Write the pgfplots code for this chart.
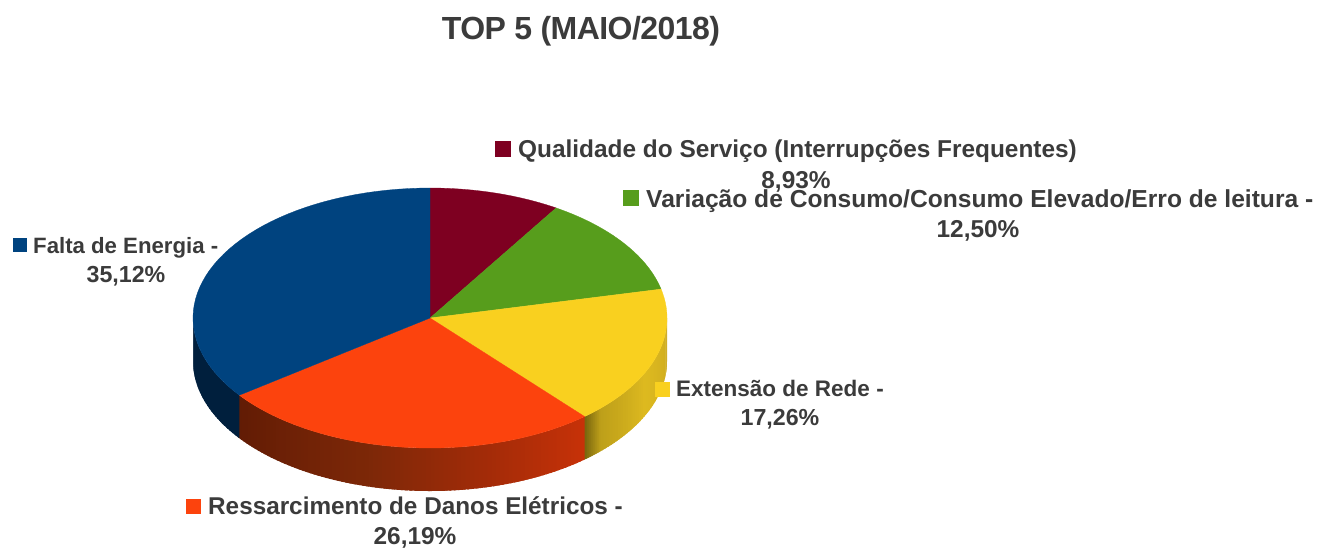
\documentclass[border=0pt]{standalone}
\usepackage{pgfplots}
\pgfplotsset{compat=1.18}
\usepackage{fontspec}
\setmainfont{Liberation Sans}
\definecolor{txt}{RGB}{59,59,59}
\definecolor{cMaroon}{RGB}{126,0,33}
\definecolor{cGreen}{RGB}{87,157,28}
\definecolor{cYellow}{RGB}{249,208,31}
\definecolor{cOrange}{RGB}{252,67,13}
\definecolor{cBlue}{RGB}{0,67,127}
% pie geometry in picture pixels
\def\cx{430}\def\cy{318}\def\rx{237}\def\ry{130}\def\dep{43}
\gdef\cum{0}
% one top sector: value in percent, colour
\newcommand\topsector[2]{%
  \pgfmathsetmacro\aS{\cum*3.6}%
  \pgfmathsetmacro\aE{(\cum+#1)*3.6}%
  \xdef\seclist{(\cx,\cy)}%
  \foreach \k in {0,...,48}{%
    \pgfmathsetmacro\aa{\aS+(\aE-\aS)*\k/48}%
    \pgfmathsetmacro\px{\cx+\rx*sin(\aa)}%
    \pgfmathsetmacro\py{\cy-\ry*cos(\aa)}%
    \xdef\seclist{\seclist (\px,\py)}%
  }%
  \pgfmathsetmacro\newcum{\cum+#1}\xdef\cum{\newcum}%
  \def\doit##1{\addplot[fill=#2,draw=#2,line width=0.3pt,forget plot] coordinates {##1} -- cycle;}%
  \expandafter\doit\expandafter{\seclist}%
}
% side wall strips between two angles, colour interpolated; each strip runs under the next
\newcommand\sidewall[9]{% a0 a1 n r0 g0 b0 r1 g1 b1
  \pgfplotsinvokeforeach{1,...,#3}{%
    \pgfmathsetmacro\aA{#1+(#2-#1)*(##1-1)/#3}%
    \pgfmathsetmacro\aB{min(270,#1+(#2-#1)*(##1+0.6)/#3)}%
    \pgfmathsetmacro\aM{0.5*(\aA+\aB)}%
    \pgfmathsetmacro\xA{\cx+\rx*sin(\aA)}\pgfmathsetmacro\yA{\cy-\ry*cos(\aA)}%
    \pgfmathsetmacro\xB{\cx+\rx*sin(\aB)}\pgfmathsetmacro\yB{\cy-\ry*cos(\aB)}%
    \pgfmathsetmacro\xM{\cx+\rx*sin(\aM)}\pgfmathsetmacro\yM{\cy-\ry*cos(\aM)}%
    \pgfmathsetmacro\yAd{\yA+\dep}\pgfmathsetmacro\yBd{\yB+\dep}\pgfmathsetmacro\yMd{\yM+\dep}%
    \pgfmathtruncatemacro\cR{#4+(#7-#4)*(##1-0.5)/#3}%
    \pgfmathtruncatemacro\cG{#5+(#8-#5)*(##1-0.5)/#3}%
    \pgfmathtruncatemacro\cB{#6+(#9-#6)*(##1-0.5)/#3}%
    \edef\doit{\noexpand\addplot[fill={rgb,255:red,\cR;green,\cG;blue,\cB},draw=none,forget plot] coordinates {(\xA,\yA) (\xM,\yM) (\xB,\yB) (\xB,\yBd) (\xM,\yMd) (\xA,\yAd)} -- cycle;}%
    \doit
  }%
}
\newcommand\fs[1]{\fontsize{#1}{#1}\selectfont\bfseries}
\begin{document}
\begin{tikzpicture}
\useasboundingbox (0,0) rectangle (1330pt,550pt);
\begin{axis}[
  at={(0,0)},anchor=south west,
  width=1330pt,height=550pt,scale only axis,
  xmin=0,xmax=1330,ymin=0,ymax=550,y dir=reverse,
  hide axis,clip=false]
% side walls
\sidewall{90}{115}{24}{205}{170}{30}{222}{186}{32}
\sidewall{115}{134}{18}{222}{186}{32}{190}{160}{26}
\sidewall{134}{139.3}{8}{190}{160}{26}{118}{100}{14}
\sidewall{139.3}{165}{24}{200}{50}{8}{165}{44}{8}
\sidewall{165}{195}{28}{165}{44}{8}{125}{40}{8}
\sidewall{195}{233.6}{36}{125}{40}{8}{98}{28}{5}
\sidewall{233.6}{270}{30}{0}{31}{61}{0}{31}{61}
% top faces, from the chart's values
\topsector{8.93}{cMaroon}
\topsector{12.50}{cGreen}
\topsector{17.26}{cYellow}
\topsector{26.19}{cOrange}
\topsector{35.12}{cBlue}
% legend keys
\addplot[only marks,mark=square*,mark size=7.5pt,mark options={fill=cMaroon,draw=cMaroon}] coordinates {(503,149)};
\addplot[only marks,mark=square*,mark size=7.5pt,mark options={fill=cGreen,draw=cGreen}] coordinates {(630.5,198)};
\addplot[only marks,mark=square*,mark size=7pt,mark options={fill=cYellow,draw=cYellow}] coordinates {(662,389)};
\addplot[only marks,mark=square*,mark size=7pt,mark options={fill=cOrange,draw=cOrange}] coordinates {(193,506.5)};
\addplot[only marks,mark=square*,mark size=6.5pt,mark options={fill=cBlue,draw=cBlue}] coordinates {(19.5,245)};
% text
\tikzset{t/.style={text=txt,inner sep=0pt,anchor=base west},c/.style={text=txt,inner sep=0pt,anchor=base}}
\node[c,font={\fs{32}\addfontfeature{LetterSpace=-1.7}}] at (axis cs:581,39.5) {TOP 5 (MAIO/2018)};
\node[t,font=\fs{24.4}] at (axis cs:518,157) {Qualidade do Serviço (Interrupções Frequentes)};
\node[c,font=\fs{24.4}] at (axis cs:796,188) {8,93\%};
\node[t,font=\fs{24.6}] at (axis cs:646,207) {Variação de Consumo/Consumo Elevado/Erro de leitura -};
\node[c,font=\fs{24.4}] at (axis cs:978,237) {12,50\%};
\node[t,font=\fs{22.2}] at (axis cs:33,253) {Falta de Energia -};
\node[c,font=\fs{23.2}] at (axis cs:126,282.5) {35,12\%};
\node[t,font=\fs{22.5}] at (axis cs:676,396) {Extensão de Rede -};
\node[c,font=\fs{23.2}] at (axis cs:780,425.5) {17,26\%};
\node[t,font=\fs{24.3}] at (axis cs:208,514) {Ressarcimento de Danos Elétricos -};
\node[c,font=\fs{24.4}] at (axis cs:415,544) {26,19\%};
\end{axis}
\end{tikzpicture}
\end{document}
